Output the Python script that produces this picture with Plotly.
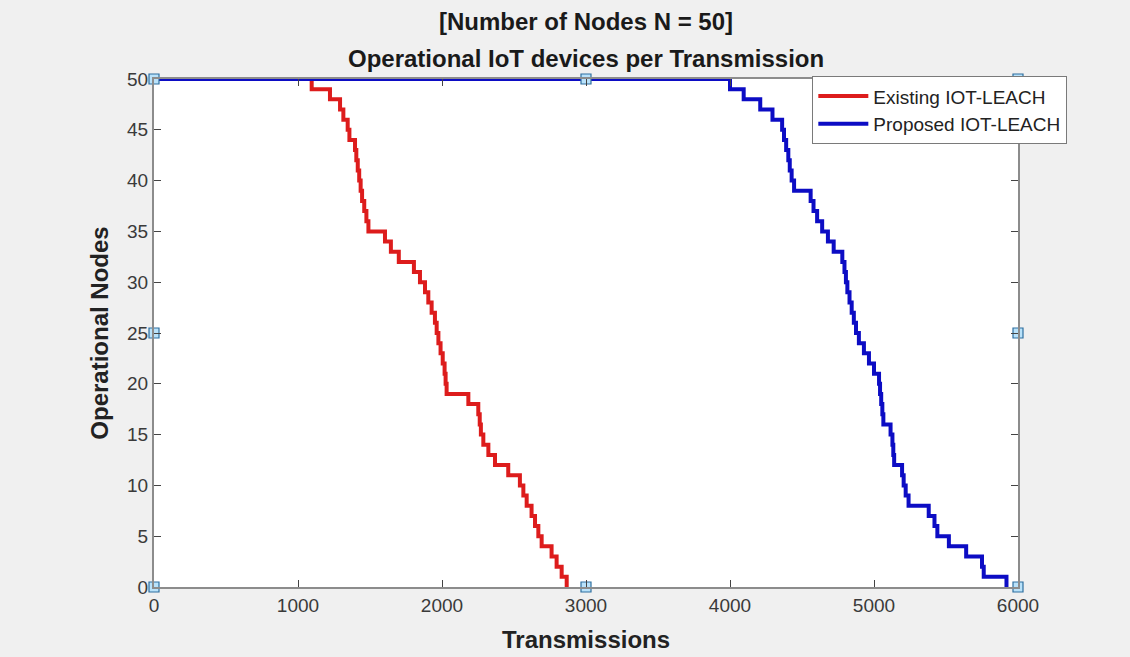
import plotly.graph_objects as go

# Existing IOT-LEACH: transmission at which the count drops, and the count after the drop
existing_x = [0, 1095, 1222, 1292, 1315, 1345, 1357, 1396, 1405, 1415, 1425, 1435, 1445, 1460,
              1475, 1489, 1604, 1645, 1700, 1805, 1847, 1882, 1905, 1928, 1951, 1963, 1975,
              1990, 2005, 2018, 2025, 2032, 2183, 2252, 2262, 2270, 2287, 2322, 2368, 2460,
              2541, 2565, 2588, 2622, 2646, 2669, 2692, 2761, 2796, 2831, 2866]
existing_y = [50, 49, 48, 47, 46, 45, 44, 43, 42, 41, 40, 39, 38, 37, 36, 35, 34, 33, 32, 31,
              30, 29, 28, 27, 26, 25, 24, 23, 22, 21, 20, 19, 18, 17, 16, 15, 14, 13, 12, 11,
              10, 9, 8, 7, 6, 5, 4, 3, 2, 1, 0]

# Proposed IOT-LEACH
proposed_x = [0, 4000, 4095, 4210, 4295, 4362, 4375, 4390, 4405, 4415, 4428, 4445, 4560, 4580,
              4605, 4640, 4680, 4720, 4780, 4795, 4805, 4815, 4830, 4845, 4860, 4875, 4895,
              4930, 4965, 5000, 5035, 5042, 5050, 5058, 5065, 5115, 5128, 5134, 5140, 5195,
              5206, 5220, 5240, 5380, 5420, 5440, 5520, 5640, 5750, 5762, 5920]
proposed_y = [50, 49, 48, 47, 46, 45, 44, 43, 42, 41, 40, 39, 38, 37, 36, 35, 34, 33, 32, 31,
              30, 29, 28, 27, 26, 25, 24, 23, 22, 21, 20, 19, 18, 17, 16, 15, 14, 13, 12, 11,
              10, 9, 8, 7, 6, 5, 4, 3, 2, 1, 0]

# selection handles drawn on the axes box
handle_x = [0, 0, 0, 3000, 3000, 6000, 6000, 6000]
handle_y = [0, 25, 50, 0, 50, 0, 25, 50]

x_ticks = [0, 1000, 2000, 3000, 4000, 5000, 6000]
y_ticks = [0, 5, 10, 15, 20, 25, 30, 35, 40, 45, 50]

title_lines = ["[Number of Nodes N = 50]", "Operational IoT devices per Transmission"]
x_title = "Transmissions"
y_title = "Operational Nodes"

FONT = "Liberation Sans, Arial, sans-serif"
AXC = "#8c8c8c"

fig = go.Figure()
fig.add_trace(go.Scatter(x=existing_x, y=existing_y, mode="lines", line_shape="hv",
                         line=dict(color="#dd1c1c", width=4), name="Existing IOT-LEACH",
                         cliponaxis=False))
fig.add_trace(go.Scatter(x=proposed_x, y=proposed_y, mode="lines", line_shape="hv",
                         line=dict(color="#0c0cc4", width=4), name="Proposed IOT-LEACH",
                         cliponaxis=False))
fig.add_trace(go.Scatter(x=handle_x, y=handle_y, mode="markers", showlegend=False,
                         marker=dict(symbol="square", size=10, color="#b9e2fa",
                                     line=dict(color="#2f6f9f", width=1.2)),
                         cliponaxis=False, hoverinfo="skip"))

annotations = []
for txt, ypx in zip(title_lines, [22, 58]):
    annotations.append(dict(text=f"<b>{txt}</b>", xref="paper", x=0.5, xanchor="center",
                            yref="paper", y=1 + (79 - ypx) / 508, yanchor="middle",
                            showarrow=False, font=dict(family=FONT, size=24, color="#1a1a1a")))
# x-axis title placed below tick labels
annotations.append(dict(text=f"<b>{x_title}</b>", xref="paper", x=0.5, xanchor="center",
                        yref="paper", y=-(639 - 587) / 508, yanchor="middle",
                        showarrow=False, font=dict(family=FONT, size=24, color="#222222")))

fig.update_layout(
    width=1130, height=657,
    margin=dict(l=154, r=112, t=79, b=70),
    paper_bgcolor="#f0f0f0", plot_bgcolor="#ffffff",
    font=dict(family=FONT, color="#333333", size=19),
    annotations=annotations,
    showlegend=True,
    legend=dict(x=0.7616, y=1.006, xanchor="left", yanchor="top",
                bgcolor="#ffffff", bordercolor="#7a7a7a", borderwidth=1.3,
                font=dict(family=FONT, size=19, color="#222222"),
                itemwidth=50, tracegroupgap=0),
)
fig.update_xaxes(range=[0, 6000], tickvals=x_ticks, ticktext=[str(v) for v in x_ticks],
                 ticks="inside", ticklen=7, tickcolor="#444444", showgrid=False, zeroline=False,
                 showline=True, linecolor=AXC, linewidth=2, mirror="ticks", automargin=False,
                 tickfont=dict(family=FONT, size=19, color="#3a3a3a"))
fig.update_yaxes(range=[0, 50], tickvals=y_ticks, ticktext=[str(v) for v in y_ticks],
                 ticks="inside", ticklen=7, tickcolor="#444444", showgrid=False, zeroline=False,
                 showline=True, linecolor=AXC, linewidth=2, mirror="ticks",
                 title=dict(text=f"<b>{y_title}</b>", font=dict(family=FONT, size=24, color="#222222"),
                            standoff=12),
                 tickfont=dict(family=FONT, size=19, color="#3a3a3a"))

fig.write_html("out.html")
